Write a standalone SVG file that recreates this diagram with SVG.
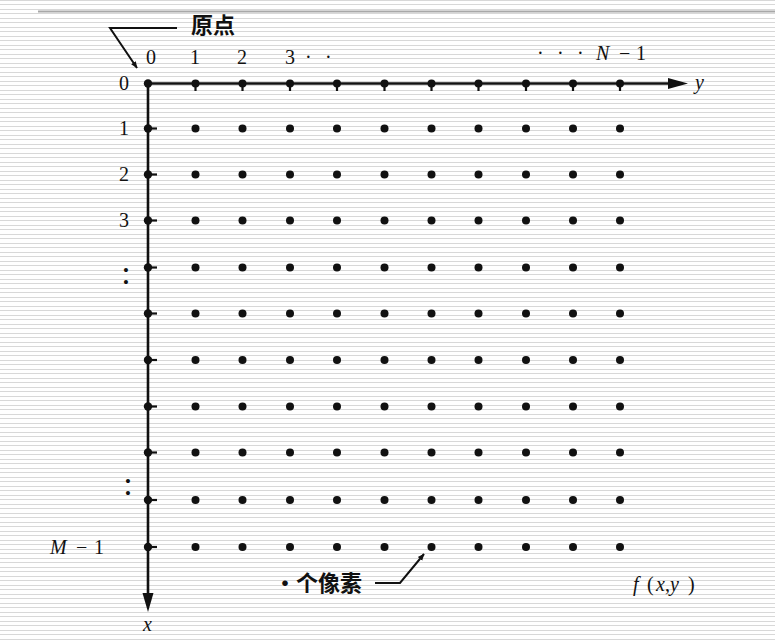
<svg xmlns="http://www.w3.org/2000/svg" xmlns:xlink="http://www.w3.org/1999/xlink" width="775" height="643" viewBox="0 0 775 643">
<style>
.lbl{font-family:"Liberation Serif","Times New Roman",serif;font-size:20px;fill:#111;}
.it{font-style:italic;}
.colon{font-size:34px;}
.cjk{font-family:"Noto Sans CJK SC","Noto Sans CJK JP",sans-serif;font-size:22px;fill:#111;font-weight:bold;}
.ax{stroke:#111;stroke-width:2.6;fill:none;}
.ptr{stroke:#111;stroke-width:2;fill:none;}
.tick{stroke:#111;stroke-width:2.2;}
.dot{fill:#111;}
</style>
<defs>
<pattern id="stripes" x="0" y="0" width="10" height="9" patternUnits="userSpaceOnUse">
<rect x="0" y="0" width="10" height="9" fill="#ffffff"/>
<rect x="0" y="0" width="10" height="1" fill="#d8d8d8"/>
<rect x="0" y="4" width="10" height="1" fill="#d8d8d8"/>
</pattern>
<marker id="arr" viewBox="0 0 10 10" refX="9" refY="5" markerWidth="7" markerHeight="7" orient="auto" markerUnits="userSpaceOnUse">
<path d="M0,1 L10,5 L0,9 Z" fill="#111"/>
</marker>
<g id="dotrow">
<circle class="dot" cx="148" cy="0" r="4.2"/>
<circle class="dot" cx="195.5" cy="0" r="4"/>
<circle class="dot" cx="242.5" cy="0" r="4"/>
<circle class="dot" cx="290" cy="0" r="4"/>
<circle class="dot" cx="337" cy="0" r="4"/>
<circle class="dot" cx="384.5" cy="0" r="4"/>
<circle class="dot" cx="431.5" cy="0" r="4"/>
<circle class="dot" cx="478.5" cy="0" r="4"/>
<circle class="dot" cx="526" cy="0" r="4"/>
<circle class="dot" cx="573" cy="0" r="4"/>
<circle class="dot" cx="620" cy="0" r="4"/>
</g>
</defs>
<rect id="background" x="0" y="0" width="775" height="643" fill="url(#stripes)"/>
<rect id="top-rule" x="38" y="10.5" width="737" height="2" fill="#a8a8a8"/>

<g id="connectors">
<line class="ax" x1="148" y1="83.5" x2="672" y2="83.5"/>
<polygon points="668,78 688,83.5 668,89" fill="#111"/>
<line class="ax" x1="148" y1="83.5" x2="148" y2="597"/>
<polygon points="142.5,593 148,612 153.5,593" fill="#111"/>
<g id="ticks">
<line class="tick" x1="195.5" y1="83.5" x2="195.5" y2="91"/>
<line class="tick" x1="242.5" y1="83.5" x2="242.5" y2="91"/>
<line class="tick" x1="290" y1="83.5" x2="290" y2="91"/>
<line class="tick" x1="337" y1="83.5" x2="337" y2="91"/>
<line class="tick" x1="384.5" y1="83.5" x2="384.5" y2="91"/>
<line class="tick" x1="431.5" y1="83.5" x2="431.5" y2="91"/>
<line class="tick" x1="478.5" y1="83.5" x2="478.5" y2="91"/>
<line class="tick" x1="526" y1="83.5" x2="526" y2="91"/>
<line class="tick" x1="573" y1="83.5" x2="573" y2="91"/>
<line class="tick" x1="620" y1="83.5" x2="620" y2="91"/>
<line class="tick" x1="148" y1="128.5" x2="157" y2="128.5"/>
<line class="tick" x1="148" y1="174.5" x2="157" y2="174.5"/>
<line class="tick" x1="148" y1="220.5" x2="157" y2="220.5"/>
<line class="tick" x1="148" y1="267.5" x2="157" y2="267.5"/>
<line class="tick" x1="148" y1="313.5" x2="157" y2="313.5"/>
<line class="tick" x1="148" y1="360" x2="157" y2="360"/>
<line class="tick" x1="148" y1="406.5" x2="157" y2="406.5"/>
<line class="tick" x1="148" y1="452.5" x2="157" y2="452.5"/>
<line class="tick" x1="148" y1="500" x2="157" y2="500"/>
<line class="tick" x1="148" y1="547" x2="157" y2="547"/>
</g>
<polyline id="origin-pointer" class="ptr" points="177,28 110,28 137,68" marker-end="url(#arr)"/>
<polyline id="pixel-pointer" class="ptr" points="375,583 400,583 424,554" marker-end="url(#arr)"/>
</g>

<g id="pixels">
<use xlink:href="#dotrow" href="#dotrow" y="83.5"/>
<use xlink:href="#dotrow" href="#dotrow" y="128.5"/>
<use xlink:href="#dotrow" href="#dotrow" y="174.5"/>
<use xlink:href="#dotrow" href="#dotrow" y="220.5"/>
<use xlink:href="#dotrow" href="#dotrow" y="267.5"/>
<use xlink:href="#dotrow" href="#dotrow" y="313.5"/>
<use xlink:href="#dotrow" href="#dotrow" y="360"/>
<use xlink:href="#dotrow" href="#dotrow" y="406.5"/>
<use xlink:href="#dotrow" href="#dotrow" y="452.5"/>
<use xlink:href="#dotrow" href="#dotrow" y="500"/>
<use xlink:href="#dotrow" href="#dotrow" y="547"/>
</g>

<g id="origin-label"><text class="cjk" x="191" y="33">原点</text></g>
<g id="col-labels">
<text class="lbl" x="151" y="64" text-anchor="middle">0</text>
<text class="lbl" x="195" y="64" text-anchor="middle">1</text>
<text class="lbl" x="242" y="64" text-anchor="middle">2</text>
<text class="lbl" x="285" y="64">3<tspan x="305">·</tspan><tspan x="325">·</tspan></text>
<text class="lbl" x="537" y="60">·<tspan x="557">·</tspan><tspan x="577">·</tspan><tspan class="it" x="596">N</tspan><tspan x="619">−</tspan><tspan x="636">1</tspan></text>
</g>
<g id="row-labels">
<text class="lbl" x="124" y="90" text-anchor="middle">0</text>
<text class="lbl" x="124" y="135" text-anchor="middle">1</text>
<text class="lbl" x="124" y="181" text-anchor="middle">2</text>
<text class="lbl" x="124" y="227" text-anchor="middle">3</text>
<text class="lbl colon" x="126" y="284" text-anchor="middle">:</text>
<text class="lbl colon" x="128" y="495" text-anchor="middle">:</text>
<text class="lbl" x="50" y="554"><tspan class="it">M</tspan><tspan x="76">−</tspan><tspan x="94">1</tspan></text>
</g>
<g id="axis-labels">
<text class="lbl it" x="695" y="89">y</text>
<text class="lbl it" x="143" y="631">x</text>
<text class="lbl" x="633" y="591"><tspan class="it">f</tspan><tspan x="647">(</tspan><tspan class="it" x="656">x</tspan><tspan x="665">,</tspan><tspan class="it" x="670">y</tspan><tspan x="688">)</tspan></text>
</g>
<g id="pixel-label"><text class="cjk" x="274" y="591">·个像素</text></g>
</svg>
